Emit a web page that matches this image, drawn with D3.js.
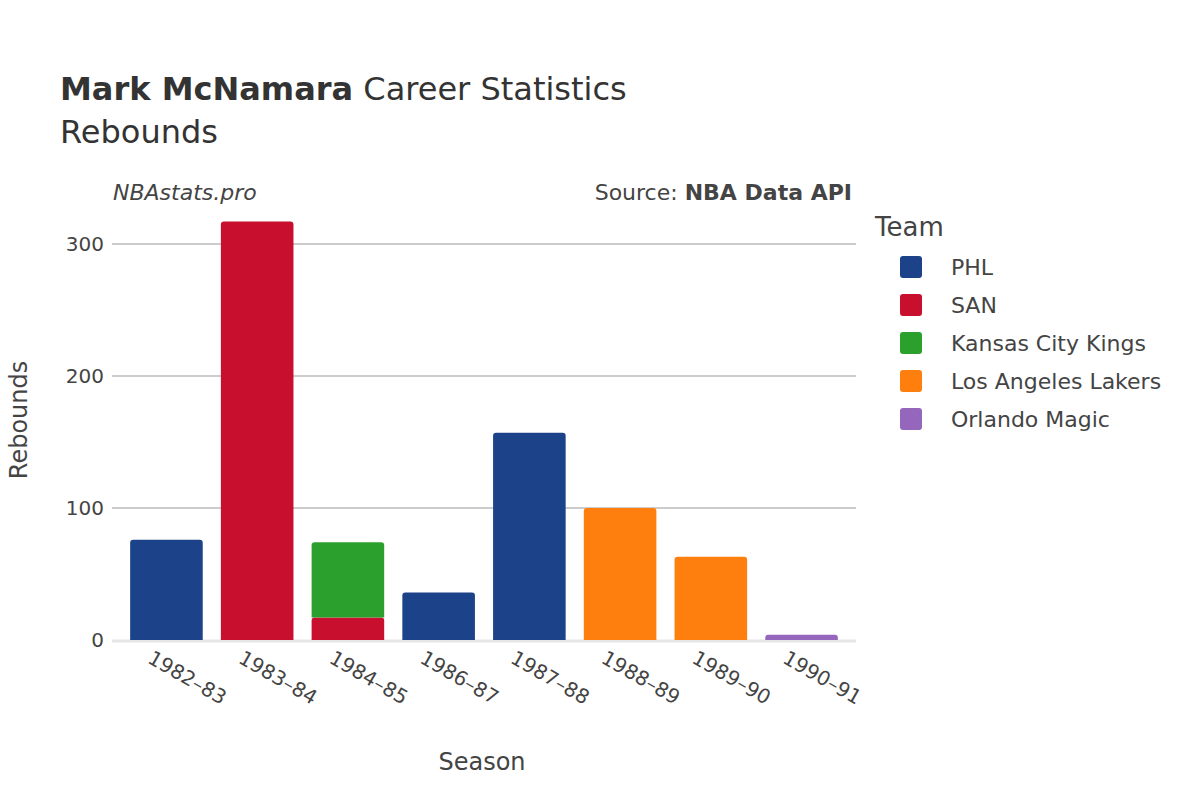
<!DOCTYPE html>
<html><head><meta charset="utf-8">
<script src="https://cdn.jsdelivr.net/npm/d3@7"></script>
<style>body{margin:0;background:#fff;font-family:"DejaVu Sans",sans-serif}</style>
</head><body><svg id="c" width="1200" height="800"></svg>
<script>
const seasons=["1982–83","1983–84","1984–85","1986–87","1987–88","1988–89","1989–90","1990–91"];
const teams=["PHL","SAN","Kansas City Kings","Los Angeles Lakers","Orlando Magic"];
const colors=["#1c4389","#c8102e","#2ca02c","#ff7f0e","#9467bd"];
const rebPHL=[76,0,0,36,157,0,0,0];
const rebSAN=[0,317,17,0,0,0,0,0];
const rebKCK=[0,0,57,0,0,0,0,0];
const rebLAL=[0,0,0,0,0,100,63,0];
const rebORL=[0,0,0,0,0,0,0,4];
const yTicks=[0,100,200,300];
const series=[rebPHL,rebSAN,rebKCK,rebLAL,rebORL];
const svg=d3.select("#c");
const L=112,R=856,T=180,B=640;
const x=d3.scaleBand().domain(seasons).range([L,R]).padding(0.2);
const y=d3.scaleLinear().domain([0,300/ (640-244)*(640-180)]).range([B,T]);
const tc="#444";
yTicks.forEach(t=>{
 if(t>0) svg.append("line").attr("x1",L).attr("x2",R).attr("y1",y(t)).attr("y2",y(t)).attr("stroke","#999").attr("stroke-width",1);
 svg.append("text").attr("x",104).attr("y",y(t)+7).attr("text-anchor","end").attr("font-size",20).attr("fill",tc).text(t);
});
svg.append("line").attr("x1",L).attr("x2",R).attr("y1",B+1).attr("y2",B+1).attr("stroke","#e5e5e5").attr("stroke-width",3);
seasons.forEach((s,i)=>{
 let base=0;
 series.forEach((ser,k)=>{
  const v=ser[i]; if(!v) return;
  svg.append("path").attr("fill",colors[k]).attr("d",()=>{
   const x0=x(s),w=x.bandwidth(),y0=y(base),y1=y(base+v),r=3;
   return `M${x0},${y0}L${x0},${y1+r}Q${x0},${y1} ${x0+r},${y1}L${x0+w-r},${y1}Q${x0+w},${y1} ${x0+w},${y1+r}L${x0+w},${y0}Z`;
  });
  base+=v;
 });
 svg.append("text").attr("transform",`translate(${x(s)+x.bandwidth()/2-20},${B+22}) rotate(30)`).attr("font-size",20).attr("fill",tc).text(s);
});
svg.append("text").attr("x",60).attr("y",100).attr("font-size",32).attr("fill","#333").html('<tspan font-weight="bold">Mark McNamara</tspan> Career Statistics');
svg.append("text").attr("x",60).attr("y",143).attr("font-size",32).attr("fill","#333").text("Rebounds");
svg.append("text").attr("x",113).attr("y",200).attr("font-size",22).attr("font-style","italic").attr("fill","#444").text("NBAstats.pro");
svg.append("text").attr("x",852).attr("y",200).attr("text-anchor","end").attr("font-size",22).attr("fill","#444").html('Source: <tspan font-weight="bold">NBA Data API</tspan>');
svg.append("text").attr("x",482).attr("y",770).attr("text-anchor","middle").attr("font-size",24).attr("fill",tc).text("Season");
svg.append("text").attr("transform","translate(27,420) rotate(-90)").attr("text-anchor","middle").attr("font-size",24).attr("fill",tc).text("Rebounds");
svg.append("text").attr("x",875).attr("y",236).attr("font-size",26).attr("fill",tc).text("Team");
teams.forEach((t,k)=>{
 const yy=267+k*38;
 svg.append("rect").attr("x",900).attr("y",yy-11).attr("width",22).attr("height",22).attr("rx",3).attr("fill",colors[k]);
 svg.append("text").attr("x",951).attr("y",yy+8).attr("font-size",22).attr("fill",tc).text(t);
});
</script></body></html>
